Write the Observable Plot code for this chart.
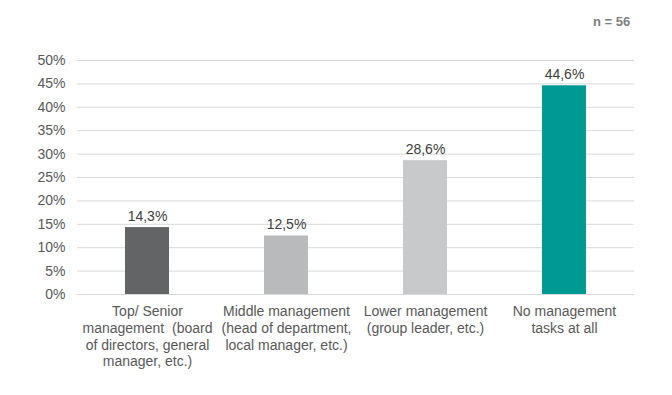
<!DOCTYPE html>
<html>
<head>
<meta charset="utf-8">
<script src="https://cdn.jsdelivr.net/npm/d3@7"></script>
<script src="https://cdn.jsdelivr.net/npm/@observablehq/plot@0.6"></script>
<style>
  body { margin: 0; background: #fff; font-family: "Liberation Sans", Arial, sans-serif; }
  #wrap { position: relative; width: 672px; height: 395px; }
  #wrap svg { position: absolute; left: 0; top: 0; }
  #n { position: absolute; z-index: 2; top: 14px; left: 593px; font-size: 13px; line-height: 16px; font-weight: bold; color: #7f7f7f; }
</style>
</head>
<body>
<div id="wrap"><div id="n">n = 56</div></div>
<script>
const categories = [
  "Top/ Senior\nmanagement  (board\nof directors, general\nmanager, etc.)",
  "Middle management\n(head of department,\nlocal manager, etc.)",
  "Lower management\n(group leader, etc.)",
  "No management\ntasks at all"
];
const values = [14.3, 12.5, 28.6, 44.6];
const colors = ["#636466", "#b9babb", "#c8c9ca", "#009994"];
const yTicks = [0, 5, 10, 15, 20, 25, 30, 35, 40, 45, 50];

const data = categories.map((c, i) => ({cat: c, value: values[i], color: colors[i]}));

const chart = Plot.plot({
  width: 672,
  height: 395,
  marginLeft: 77,
  marginRight: 38,
  marginTop: 60,
  marginBottom: 101,
  style: {fontFamily: "Liberation Sans, Arial, sans-serif", fontSize: "14px", color: "#595959", background: "transparent"},
  x: {domain: categories, paddingInner: 0.68, paddingOuter: 0.34, label: null},
  y: {domain: [0, 50], label: null},
  marks: [
    Plot.ruleY(yTicks, {stroke: "#d9d9d9", strokeWidth: 1}),
    Plot.barY(data, {x: "cat", y: "value", fill: "color"}),
    Plot.text(data, {x: "cat", y: "value", text: d => d.value.toFixed(1).replace(".", ",") + "%", lineAnchor: "middle", dy: -11, fill: "#404040", fontSize: 14}),
    Plot.axisY(yTicks, {tickSize: 0, tickPadding: 12, tickFormat: d => d + "%", fill: "#595959", fontSize: 14}),
    Plot.axisX({tickSize: 0, tickPadding: 10, lineHeight: 1.19, fill: "#595959", fontSize: 14, textAnchor: "middle"})
  ]
});
document.getElementById("wrap").appendChild(chart);
</script>
</body>
</html>
